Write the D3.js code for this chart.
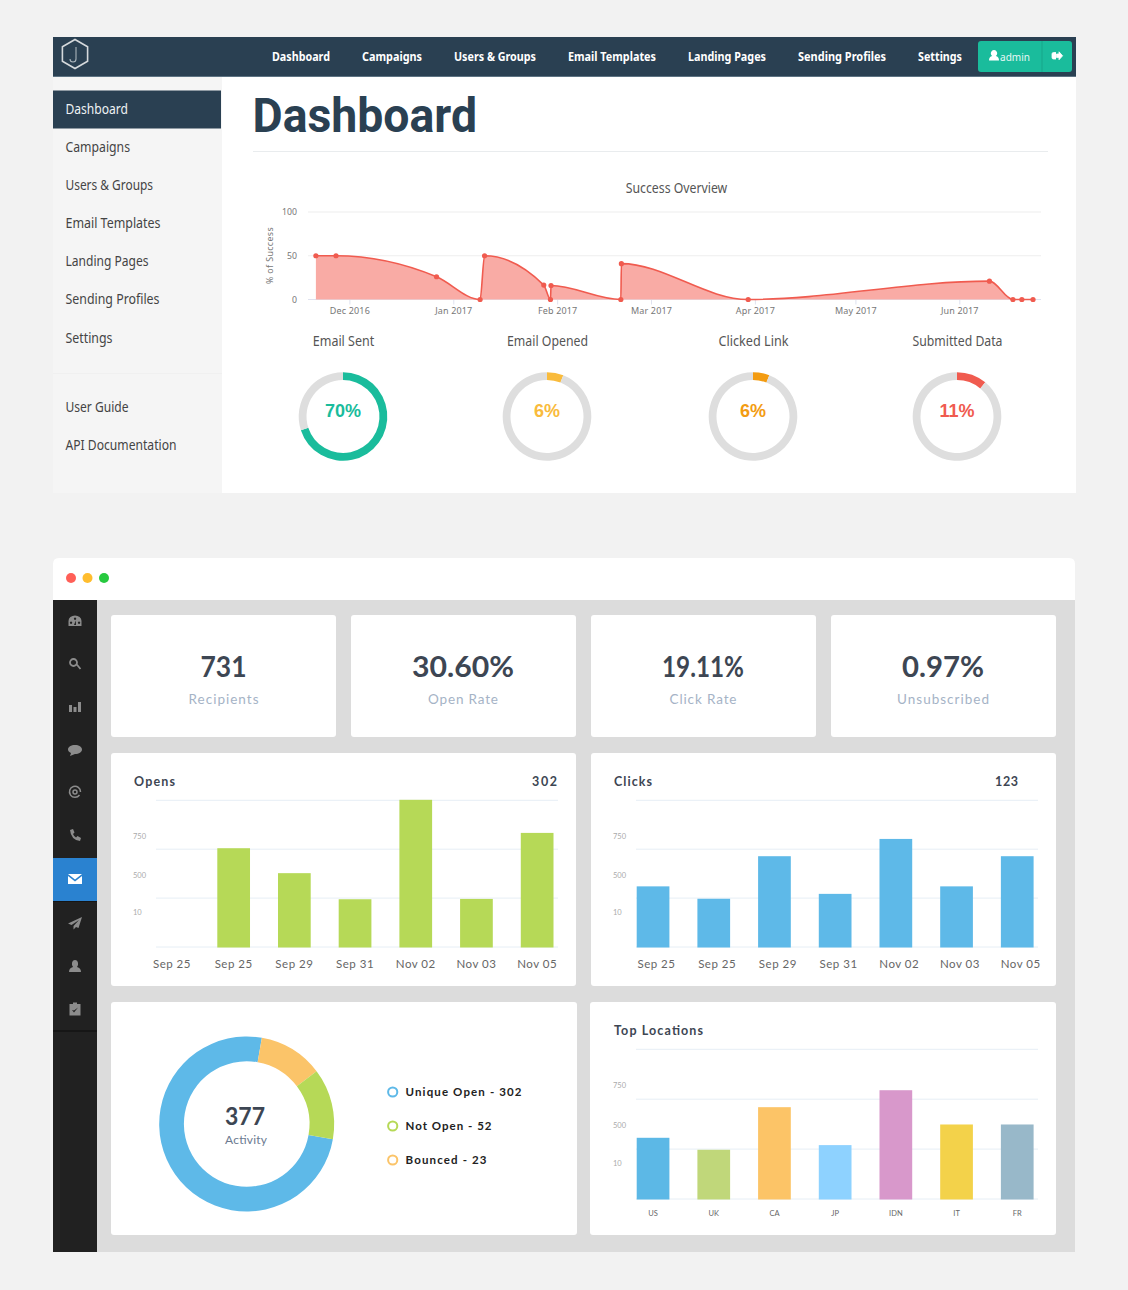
<!DOCTYPE html>
<html><head><meta charset="utf-8">
<script src="https://cdnjs.cloudflare.com/ajax/libs/d3/7.8.5/d3.min.js"></script>
<style>html,body{margin:0;padding:0;background:#f2f2f2}svg{display:block}</style>
</head><body><svg id="c" width="1128" height="1290"></svg>
<script>
// ---------- data ----------
const navItems = ["Dashboard","Campaigns","Users & Groups","Email Templates","Landing Pages","Sending Profiles","Settings"];
const sideItems = ["Dashboard","Campaigns","Users & Groups","Email Templates","Landing Pages","Sending Profiles","Settings"];
const sideExtra = ["User Guide","API Documentation"];
const overviewDates = ["2016-11-21","2016-11-27","2016-12-27","2017-01-09","2017-01-10T08:00","2017-01-28","2017-01-30","2017-01-30T04:00","2017-02-20","2017-02-20T04:00","2017-03-30","2017-06-10","2017-06-17","2017-06-19T16:00","2017-06-23"];
const overviewValues = [50,50,26,0,50,16.5,0,16,0,41,0,21,0,0,0];
const overviewTicks = ["2016-12-01","2017-01-01","2017-02-01","2017-03-01","2017-04-01","2017-05-01","2017-06-01"];
const overviewY = [0,50,100];
const gaugeNames = ["Email Sent","Email Opened","Clicked Link","Submitted Data"];
const gaugeValues = [70,6,6,11];
const gaugeColors = ["#1abc9c","#f9bb3c","#f39c12","#f05b4f"];
const statValues = ["731","30.60%","19.11%","0.97%"];
const statLabels = ["Recipients","Open Rate","Click Rate","Unsubscribed"];
const dateLabels = ["Sep 25","Sep 25","Sep 29","Sep 31","Nov 02","Nov 03","Nov 05"];
const opensValues = [0,606,453,293,903,295,700];
const clicksValues = [372,296,557,326,663,372,557];
const locationLabels = ["US","UK","CA","JP","IDN","IT","FR"];
const locationValues = [368,296,552,324,654,448,448];
const locationColors = ["#5cb8e6","#c0d77a","#fcc467","#8ed2ff","#d898cb","#f3d24a","#98b8c9"];
const yLabels = ["750","500","10"];
const yLabelValues = [680,441,214];
const gridValues = [0,300,600,900];
const donutValues = [270,43,47];
const donutColors = ["#5eb9e8","#fbc469","#b6d957"];
const legendLabels = ["Unique Open - 302","Not Open - 52","Bounced - 23"];
const legendColors = ["#5eb9e8","#b6d957","#fbc469"];

// ---------- helpers ----------
const svg = d3.select("#c");
const SANS = "'Noto Sans'", LATO = "Lato", ROB = "Roboto", ARIAL = "'Liberation Sans'";
function T(g,x,y,s,o={}){
  const e=g.append("text").attr("x",x).attr("y",y).text(s)
   .attr("font-family",o.font||SANS).attr("font-size",o.size||14).attr("font-weight",o.weight||400)
   .attr("fill",o.fill||"#555").attr("text-anchor",o.anchor||"start");
  if(o.w) e.attr("textLength",o.w).attr("lengthAdjust",o.adj||"spacingAndGlyphs");
  return e;
}
function R(g,x,y,w,h,f,r=0){return g.append("rect").attr("x",x).attr("y",y).attr("width",w).attr("height",h).attr("fill",f).attr("rx",r).attr("ry",r);}

// ---------- panel 1 ----------
const p1 = svg.append("g");
R(p1,53,77,169,416,"#f5f5f5");
R(p1,222,77,854,416,"#fff");
R(p1,53,37,1023,40,"#2a4052");
R(p1,53,76,1023,1,"#5d7383");
p1.append("path").attr("transform","translate(75,54)")
  .attr("d",d3.range(6).map(i=>{const a=Math.PI/3*i-Math.PI/2;return (i?"L":"M")+(14.5*Math.cos(a)).toFixed(1)+" "+(14.5*Math.sin(a)).toFixed(1)}).join("")+"Z")
  .attr("fill","none").attr("stroke","#d5d9dc").attr("stroke-width",1.6);
p1.append("path").attr("d","M76 47V59q0 3-3 3t-3-3").attr("fill","none").attr("stroke","#aab4bb").attr("stroke-width",1.1);
const navX=[272,362,454,568,688,798,918], navW=[58,60,82,88,78,88,44];
navItems.forEach((n,i)=>T(p1,navX[i],61,n,{size:12.5,weight:700,fill:"#fff",w:navW[i]}));
R(p1,978,41,94,31,"#1abc9c",3);
R(p1,1041.5,41,1,31,"#17a589");
p1.append("path").attr("d","M989 60.5q0-4 3.2-4.6a3.2 3.2 0 1 1 3.6 0q3.2.6 3.2 4.6Z").attr("fill","#fff");
T(p1,1000,61,"admin",{size:11.5,fill:"#e8f8f5",w:30});
p1.append("path").attr("d","M1056 52.5h-2.5q-1.5 0-1.5 1.5v3.5q0 1.5 1.5 1.5h2.5M1056.5 54h2.5v-2.2l3.6 4-3.6 4v-2.2h-2.5Z").attr("fill","#fff").attr("stroke","#fff").attr("stroke-width",.8);
R(p1,53,90.5,168,38,"#2a4052");
const sideY=[114,152,190,228,266,304,343], sideW=[62.5,64.5,87.5,95,83,94,47];
sideItems.forEach((n,i)=>T(p1,65.5,sideY[i],n,{size:13.5,fill:i?"#444":"#eef2f4",w:sideW[i]}));
R(p1,53,373,169,1,"#f0f0f0");
T(p1,65.5,412,sideExtra[0],{size:13.5,fill:"#444",w:63});
T(p1,65.5,450,sideExtra[1],{size:13.5,fill:"#444",w:111});
T(p1,252.5,132,"Dashboard",{font:ROB,size:49,weight:700,fill:"#2a4052",w:224.5});
R(p1,253,151,795,1,"#e9ecee");
T(p1,676.5,193,"Success Overview",{size:13.5,anchor:"middle",fill:"#555",w:101.5});

// line chart
const parse = s=>new Date(s.length>10?s+"Z":s+"T00:00Z");
const pts = overviewDates.map((d,i)=>({d:parse(d),v:overviewValues[i]}));
const xT = d3.scaleUtc().domain([parse("2016-12-01"),parse("2017-06-01")]).range([349.4,959.3]);
const yO = d3.scaleLinear().domain([0,100]).range([299.5,212]);
const lc = p1.append("g");
overviewY.forEach(v=>{
  lc.append("line").attr("x1",308).attr("x2",1041).attr("y1",yO(v)).attr("y2",yO(v))
    .attr("stroke",v===0?"#dfe2ef":v===100?"#f3f3f3":"#eeeeee").attr("stroke-width",v===100?1.4:1);
  T(lc,297,yO(v)+3,String(v),{size:8.7,fill:"#777",anchor:"end"});
});
const axT = d3.axisBottom(xT).tickValues(overviewTicks.map(parse)).tickSize(5).tickFormat(d3.utcFormat("%b %Y"));
const axg = lc.append("g").attr("transform","translate(0,299.5)").call(axT);
axg.select(".domain").remove();
axg.selectAll("line").attr("stroke","#dfe2ef");
axg.selectAll("text").attr("font-family",SANS).attr("font-size",9).attr("fill","#777").attr("dy",0).attr("y",14.5).attr("letter-spacing",.15);
lc.append("text").attr("transform","translate(273,255.5) rotate(-90)").attr("text-anchor","middle")
  .attr("font-family",SANS).attr("font-size",8.8).attr("letter-spacing",.4).attr("fill","#777").text("% of Success");
const crv=d3.curveMonotoneX;
lc.append("path").datum(pts).attr("fill","#f9aba5")
  .attr("d",d3.area().x(d=>xT(d.d)).y0(yO(0)).y1(d=>yO(d.v)).curve(crv));
lc.append("path").datum(pts).attr("fill","none").attr("stroke","#f05b4f").attr("stroke-width",1.6)
  .attr("d",d3.line().x(d=>xT(d.d)).y(d=>yO(d.v)).curve(crv));
lc.selectAll("circle").data(pts).join("circle").attr("cx",d=>xT(d.d)).attr("cy",d=>yO(d.v)).attr("r",2.6).attr("fill","#f05b4f");

// gauges
const gaugeX=[343,547,753,957];
const gArc=d3.arc().innerRadius(36.5).outerRadius(44.3);
gaugeNames.forEach((n,i)=>{
  const g=p1.append("g").attr("transform",`translate(${gaugeX[i]},416.5)`);
  T(p1,gaugeX[i]+.5,346,n,{size:13.5,anchor:"middle",fill:"#555",w:[61.5,81,70,90][i]});
  const pie=d3.pie().sort(null)([gaugeValues[i],100-gaugeValues[i]]);
  g.selectAll("path").data(pie).join("path").attr("d",gArc).attr("fill",(d,j)=>j?"#dedede":gaugeColors[i]);
  T(g,0,0,gaugeValues[i]+"%",{font:ARIAL,size:18,weight:700,anchor:"middle",fill:gaugeColors[i]});
});

// ---------- panel 2 ----------
const p2=svg.append("g");
p2.append("path").attr("d","M53 600V564q0-6 6-6H1069q6 0 6 6V600Z").attr("fill","#fff");
R(p2,97,600,978,652,"#dcdcdc");
R(p2,53,600,44,652,"#212121");
[["#ff5f57",71],["#ffbd2e",87.5],["#27c93f",104]].forEach(c=>p2.append("circle").attr("cx",c[1]).attr("cy",578).attr("r",5).attr("fill",c[0]));
R(p2,53,858,44,43,"#2a82d0");
R(p2,53,901,44,1,"#151515");
R(p2,53,1030,44,2,"#161616");
const ic="#8c8c8c";
function icon(y,d,o={}){p2.append("path").attr("transform",`translate(75,${y})`).attr("d",d)
  .attr("fill",o.stroke?"none":(o.fill||ic)).attr("stroke",o.stroke||"none").attr("stroke-width",o.sw||0).attr("fill-rule","evenodd");}
icon(621,"M-6.5 5V0A6.5 5.5 0 0 1 6.5 0V5ZM-4 .5a1.2 1.2 0 1 0 .1 0ZM4 .5a1.2 1.2 0 1 0 .1 0ZM0-3.5a1.2 1.2 0 1 0 .1 0ZM-1 4 .8-.5 1 4Z");
icon(664,"M-1.5-1.5m-3.5 0a3.5 3.5 0 1 0 7 0a3.5 3.5 0 1 0-7 0M1-.5L5.5 5",{stroke:ic,sw:1.8});
icon(707,"M-6-2h3V5h-3ZM-1.5 0h3V5h-3ZM3-5h3V5h-3Z");
icon(750,"M0-5C4-5 7-3 7-.5S4 4 0 4L-5 6-4 3C-6 2-7 1-7-.5-7-3-4-5 0-5Z");
icon(792,"M4.5 3A5.5 5.5 0 1 1 5.5 0M2 0a2 2 0 1 1-4 0a2 2 0 1 1 4 0",{stroke:ic,sw:1.5});
icon(835,"M-5-5-2-6-.5-2.5-2-1Q-1 1.5 1 2.5L2.5 1 6 3 5 6Q-4 5-5-5Z");
icon(879,"M-7-5H7L0 .5ZM-7-3V5H7V-3L0 2.5Z",{fill:"#fff"});
icon(923,"M7-6-7 .5-3.5 2 4-3-1.5 3V6.5L1 4 3.5 5Z");
icon(966,"M-6 6Q-6 2-2 1-3.5-.5-3-3-2.5-6 0-6T3-3Q3.5-.5 2 1 6 2 6 6Z");
icon(1009,"M-5.5-5H-2V-6.5H2V-5H5.5V6.5H-5.5ZM-3 1-1 3.5 3-1.5-1 1.5Z");

// stat cards
const cardX=[111,351,591,831], cardC=[223.5,463,703,943], valW=[46,102,82,82], labW=[70,70,67,92];
statValues.forEach((v,i)=>{
  R(p2,cardX[i],615,225,122,"#fff",3);
  T(p2,cardC[i],677,v,{font:LATO,size:29,weight:700,fill:"#3d4653",anchor:"middle",w:valW[i]});
  T(p2,cardC[i],704,statLabels[i],{font:LATO,size:13.5,fill:"#a5b3c6",anchor:"middle",w:labW[i],adj:"spacing"});
});
R(p2,111,753,465,233,"#fff",3);
R(p2,591,753,465,233,"#fff",3);
R(p2,111,1002,466,233,"#fff",3);
R(p2,590,1002,466,233,"#fff",3);

function barChart(o){
  const g=p2.append("g");
  const x=d3.scaleBand().domain(d3.range(o.values.length)).range([o.x0,o.x0+396.9]).paddingInner(.461).paddingOuter(0);
  const y=d3.scaleLinear().domain([0,900]).range([o.bottom,o.top]);
  gridValues.forEach(v=>g.append("line").attr("x1",o.gx0).attr("x2",o.gx0+402).attr("y1",y(v)).attr("y2",y(v)).attr("stroke","#e6eef5").attr("stroke-width",1));
  yLabels.forEach((l,i)=>T(g,o.gx0-23,y(yLabelValues[i])+2.5,l,{font:LATO,size:7.5,fill:"#aaa"}));
  g.selectAll("rect").data(o.values.map((v,i)=>({v,i})).filter(d=>d.v>0)).join("rect")
    .attr("x",d=>x(d.i)).attr("width",x.bandwidth()).attr("y",d=>y(d.v)).attr("height",d=>o.bottom-y(d.v)+.5)
    .attr("fill",d=>o.colors?o.colors[d.i]:o.color);
  const ax=d3.axisBottom(x).tickSize(0).tickFormat(i=>o.labels[i]);
  const a=g.append("g").attr("transform",`translate(${o.labelShift||0},${o.bottom})`).call(ax);
  a.select(".domain").remove();
  a.selectAll("text").attr("font-family",LATO).attr("font-size",o.labelSize).attr("fill",o.labelFill)
    .attr("letter-spacing",o.labelSpacing||0).attr("y",o.labelY).attr("dy",0);
  a.selectAll(".tick").filter(i=>i===0&&o.firstShift).select("text").attr("dx",o.firstShift);
}
barChart({x0:156.6,gx0:156,top:800.3,bottom:947,values:opensValues,color:"#b6d957",labels:dateLabels,labelSize:11.5,labelFill:"#666",labelY:21,labelSpacing:.5,firstShift:-1});
barChart({x0:636.7,gx0:636,top:800.3,bottom:947,values:clicksValues,color:"#5eb9e8",labels:dateLabels,labelSize:11.5,labelFill:"#666",labelY:21,labelSpacing:.5,labelShift:3.4});
barChart({x0:636.7,gx0:636,top:1049.3,bottom:1199,values:locationValues,colors:locationColors,labels:locationLabels,labelSize:7.5,labelFill:"#666",labelY:16.5});

const H={font:LATO,size:12.5,weight:700,fill:"#3d4653",adj:"spacing"};
T(p2,134,786,"Opens",{...H,w:41});
T(p2,532,786,"302",{...H,w:25});
T(p2,614,786,"Clicks",{...H,w:38});
T(p2,995,786,"123",{...H,w:23});
T(p2,614,1035,"Top Locations",{...H,w:89});

// activity donut
const dg=p2.append("g").attr("transform","translate(246.7,1124)");
const pieD=d3.pie().sort(null).startAngle(100*Math.PI/180).endAngle(460*Math.PI/180)(donutValues);
dg.selectAll("path").data(pieD).join("path").attr("d",d3.arc().innerRadius(62.8).outerRadius(87.5)).attr("fill",(d,i)=>donutColors[i]);
T(p2,245,1125,"377",{font:LATO,size:25,weight:700,fill:"#3d4653",anchor:"middle",w:40});
T(p2,246,1144,"Activity",{font:LATO,size:12,fill:"#6b7a90",anchor:"middle",w:42,adj:"spacing"});
const legY=[1092,1126,1160], legW=[116,86,81];
legendLabels.forEach((l,i)=>{
  p2.append("circle").attr("cx",392.7).attr("cy",legY[i]).attr("r",4.6).attr("fill","#fff").attr("stroke",legendColors[i]).attr("stroke-width",2);
  T(p2,405.5,legY[i]+4,l,{font:LATO,size:11.5,weight:700,fill:"#222",w:legW[i],adj:"spacing"});
});
</script></body></html>
